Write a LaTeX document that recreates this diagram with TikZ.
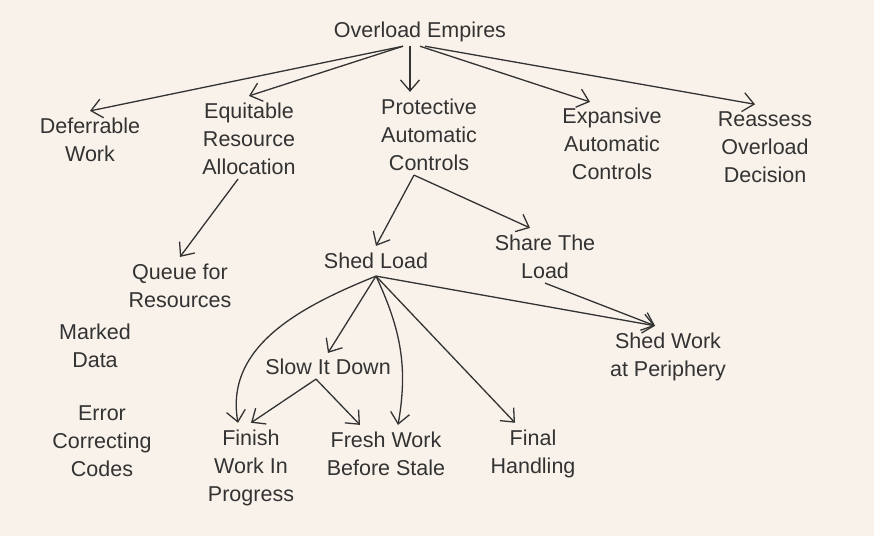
\documentclass[tikz,border=0pt]{standalone}
\usepackage{fontspec}
\setmainfont{Liberation Sans}
\usetikzlibrary{arrows}
\usetikzlibrary{arrows.meta}
\usetikzlibrary{positioning}
\definecolor{paper}{HTML}{F8F2EA}
\definecolor{ink}{HTML}{333333}
\tikzstyle{every node}+=[inner sep=0pt]
\tikzstyle{topic} = [text=ink, font=\fontsize{21.5}{28}\selectfont, align=center, inner sep=4pt]
\tikzstyle{line} = [draw=ink, line width=1.3pt, -{Straight Barb[length=11pt,width=19pt]}]

\begin{document}
\begin{tikzpicture}[x=1pt, y=1pt]
          \fill [paper] (0,0) rectangle (874,-536);
          \useasboundingbox (0,0) rectangle (874,-536);
          % Place nodes
          \node [topic] (root) at (420,-32) {Overload Empires};
          \node [topic, below of=root, node distance=108pt, xshift=-330pt] (defer) {Deferrable\\Work};
          \node [topic, below of=root, node distance=107pt, xshift=-171pt] (equit) {Equitable\\Resource\\Allocation};
          \node [topic, below of=root, node distance=103pt, xshift=9pt] (protect) {Protective\\Automatic\\Controls};
          \node [topic, below of=root, node distance=112pt, xshift=192pt] (expand) {Expansive\\Automatic\\Controls};
          \node [topic, below of=root, node distance=115pt, xshift=345pt] (reassess) {Reassess\\Overload\\Decision};
          \node [topic, below of=equit, node distance=147pt, xshift=-69pt] (queue) {Queue for\\Resources};
          \node [topic, below of=protect, node distance=126pt, xshift=-53pt] (shed) {Shed Load};
          \node [topic, below of=protect, node distance=122pt, xshift=116pt] (share) {Share The\\Load};
          \node [topic, below of=queue, node distance=60pt, xshift=-85pt] (marked) {Marked\\Data};
          \node [topic, below of=shed, node distance=106pt, xshift=-48pt] (slow) {Slow It Down};
          \node [topic, below of=share, node distance=100pt, xshift=123pt] (periph) {Shed Work\\at Periphery};
          \node [topic, below of=marked, node distance=95pt, xshift=7pt] (ecc) {Error\\Correcting\\Codes};
          \node [topic, below of=slow, node distance=101pt, xshift=-77pt] (finish) {Finish\\Work In\\Progress};
          \node [topic, below of=slow, node distance=87pt, xshift=58pt] (fresh) {Fresh Work\\Before Stale};
          \node [topic, right of=fresh, node distance=147pt] (final) {Final\\Handling};
          % Draw edges
          \path [line] ([xshift=-17pt]root.south) -- ([yshift=3pt]defer.north);
          \path [line] ([xshift=-17pt]root.south) -- ([yshift=3pt]equit.north);
          \path [line] ([xshift=-10pt]root.south) -- ([xshift=-19pt, yshift=3pt]protect.north);
          \path [line] (root.south) -- ([xshift=-22pt, yshift=2pt]expand.north);
          \path [line] ([xshift=5pt]root.south) -- ([xshift=-10pt, yshift=3pt]reassess.north);
          \path [line] ([xshift=-11pt]equit.south) -- ([yshift=3pt]queue.north);
          \path [line] ([xshift=-15pt]protect.south) -- ([yshift=3pt]shed.north);
          \path [line] ([xshift=-15pt]protect.south) -- ([xshift=-15pt, yshift=3pt]share.north);
          \path [line] ([yshift=-3pt]shed.south) to[out=202, in=100] ([xshift=-13pt, yshift=3pt]finish.north);
          \path [line] ([yshift=-3pt]shed.south) -- ([yshift=2pt]slow.north);
          \path [line] ([yshift=-3pt]shed.south) to[out=-65, in=80] ([xshift=12pt, yshift=3pt]fresh.north);
          \path [line] ([yshift=-3pt]shed.south) -- ([xshift=-18pt, yshift=3pt]final.north);
          \path [line] ([yshift=-3pt]shed.south) -- ([xshift=-13pt, yshift=3pt]periph.north);
          \path [line] (share.south) -- ([xshift=-13pt, yshift=3pt]periph.north);
          \path [line] ([xshift=-12pt]slow.south) -- ([yshift=3pt]finish.north);
          \path [line] ([xshift=-12pt]slow.south) -- ([xshift=-26pt, yshift=3pt]fresh.north);
        \end{tikzpicture}
\end{document}
